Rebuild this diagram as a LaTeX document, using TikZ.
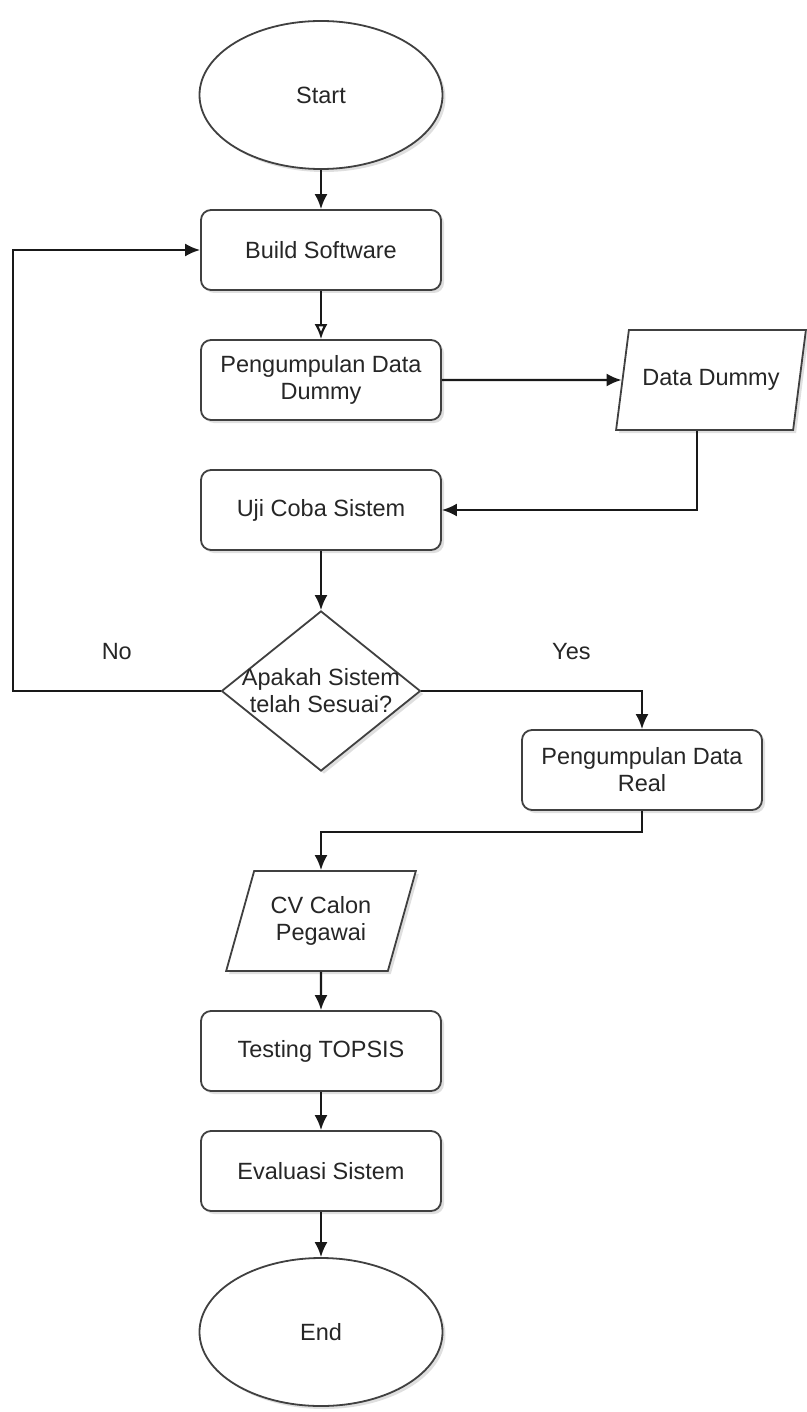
\documentclass[tikz,border=0pt]{standalone}
\usepackage{fontspec}
\setmainfont{Liberation Sans}
\usepackage{tikz}
\usetikzlibrary{shapes,arrows.meta,shadows,positioning}

\begin{document}
\begin{tikzpicture}[
    x=1pt, y=-1pt,
    node distance=130pt,
    >={Latex[length=15pt,width=13pt]},
    font=\fontsize{23.5}{27}\selectfont,
    text=black!85,
    line/.style={draw=black!90, line width=2.2pt},
    block/.style={
        draw=black!75,
        rectangle,
        rounded corners=10pt,
        minimum width=240pt,
        minimum height=80pt,
        align=center,
        fill=white,
        line width=1.8pt,
        drop shadow={shadow xshift=3pt, shadow yshift=-3pt, opacity=0.25}
    },
    terminal/.style={
        draw=black!75,
        ellipse,
        minimum width=243pt,
        minimum height=148pt,
        fill=white,
        line width=1.8pt,
        drop shadow={shadow xshift=3pt, shadow yshift=-3pt, opacity=0.25}
    },
    io/.style={
        draw=black!75,
        trapezium,
        trapezium left angle=68,
        trapezium right angle=112,
        trapezium stretches=true,
        minimum width=190pt,
        minimum height=100pt,
        align=center,
        fill=white,
        line width=1.8pt,
        drop shadow={shadow xshift=3pt, shadow yshift=-3pt, opacity=0.25}
    },
    decision/.style={
        draw=black!75,
        diamond,
        minimum width=199pt,
        minimum height=160pt,
        inner sep=0pt,
        fill=white,
        line width=1.8pt,
        drop shadow={shadow xshift=3pt, shadow yshift=-3pt, opacity=0.25}
    },
    waypoint/.style={coordinate}
]
\useasboundingbox (0,0) rectangle (806,1412);

% Nodes
\node [terminal] (start) at (321,95) {Start};
\node [block, below of=start, node distance=155pt] (build) {Build Software};
\node [block, below of=build] (dummy) {Pengumpulan Data\\Dummy};
\node [io, right of=dummy, node distance=390pt] (datadummy) {Data Dummy};
\node [block, below of=dummy] (trial) {Uji Coba Sistem};
\node [decision, below of=trial, node distance=181pt,
    label={[align=center]center:Apakah Sistem\\telah Sesuai?}] (check) {};
\node [block] (real) at (642,770) {Pengumpulan Data\\Real};
\node [io, below of=check, node distance=230pt] (cv) {CV Calon\\Pegawai};
\node [block, below of=cv] (topsis) {Testing TOPSIS};
\node [block, below of=topsis, node distance=120pt] (evaluate) {Evaluasi Sistem};
\node [terminal, below of=evaluate, node distance=161pt] (stop) {End};
\node [waypoint, left of=build, node distance=308pt] (back) {};
\node [waypoint, below of=real, node distance=62pt] (realdown) {};
\node [waypoint, left of=datadummy, node distance=14pt] (ddx) {};

% Arrows and labels
\draw [->, line] (start) -- (build);
\draw [-{Latex[open,length=15pt,width=13pt]}, line] (build) -- (dummy);
\draw [->, line] (dummy) -- (datadummy);
\draw [->, line] (datadummy.south -| ddx) |- (trial);
\draw [->, line] (trial) -- (check);
\draw [->, line] (check) -| node[pos=0.25, yshift=39pt] {No} (back) -- (build);
\draw [->, line] (check) -| node[pos=0.34, yshift=39pt] {Yes} (real);
\draw [->, line] (real) -- (realdown) -| (cv);
\draw [->, line] (cv) -- (topsis);
\draw [->, line] (topsis) -- (evaluate);
\draw [->, line] (evaluate) -- (stop);

\end{tikzpicture}
\end{document}
